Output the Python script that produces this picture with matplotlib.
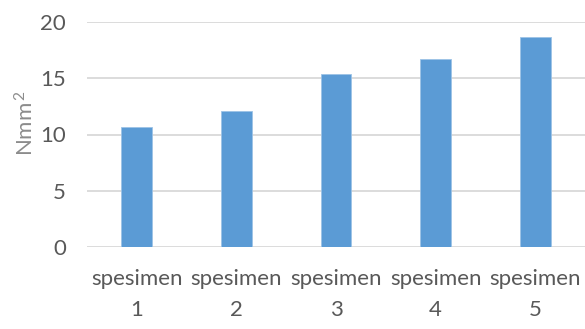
import numpy as np
import matplotlib.pyplot as plt

categories = ["spesimen\n1", "spesimen\n2", "spesimen\n3", "spesimen\n4", "spesimen\n5"]
values = [10.7, 12.05, 15.35, 16.7, 18.65]
yticks = [0, 5, 10, 15, 20]

plt.rcParams['font.family'] = ['Lato', 'DejaVu Sans']
plt.rcParams['mathtext.fontset'] = 'custom'
plt.rcParams['mathtext.rm'] = 'Lato'
plt.rcParams['mathtext.it'] = 'Lato'

fig = plt.figure(figsize=(5.85, 3.29), dpi=100)
ax = fig.add_axes([87 / 585, 1 - 247 / 329, 498 / 585, 225 / 329])

x = np.arange(len(categories))
ax.bar(x, values, width=0.31, color="#5B9BD5", edgecolor="#9DC3E6", linewidth=0.6, zorder=3)

ax.set_xlim(-0.5, len(categories) - 0.5)
ax.set_ylim(0, 20)
ax.set_yticks(yticks)
ax.yaxis.grid(True, color="#D9D9D9", linewidth=1.3, zorder=0)
ax.set_axisbelow(True)

for s in ax.spines.values():
    s.set_visible(False)
ax.tick_params(axis="both", length=0, colors="#595959", labelsize=16)
ax.tick_params(axis="y", pad=15)
ax.tick_params(axis="x", pad=16)
ax.set_xticks(x)
ax.set_xticklabels(categories, linespacing=1.7)

ax.set_ylabel("Nmm$^{\\,2}$", color="#8C8C8C", fontsize=16)
ax.yaxis.set_label_coords(-0.1, 0.55)

fig.savefig("out.png", dpi=100)
